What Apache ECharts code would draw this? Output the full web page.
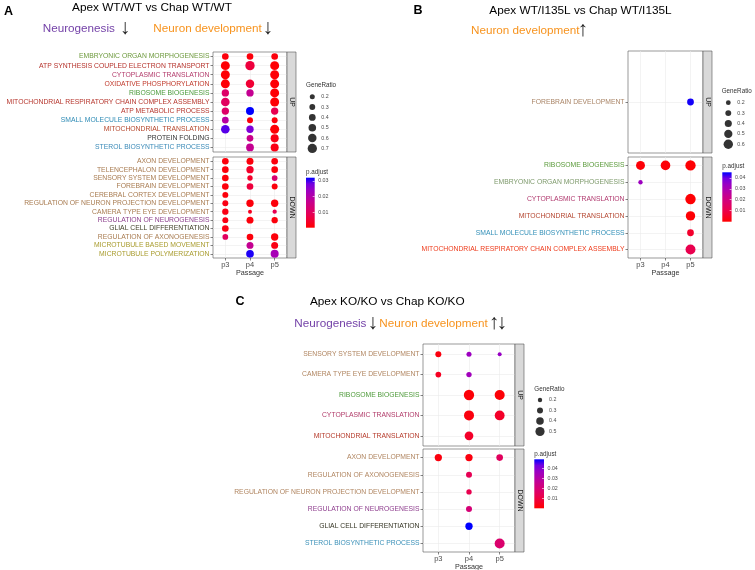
<!DOCTYPE html>
<html><head><meta charset="utf-8">
<script src="https://cdn.jsdelivr.net/npm/echarts@6/dist/echarts.min.js"></script>
<style>html,body{margin:0;padding:0;background:#fff}#c{width:755px;height:570px}</style>
</head><body><div id="c"></div>
<script>
// ---------------- DATA ----------------
const passages = ['p3', 'p4', 'p5'];

// Panel A : Apex WT/WT vs Chap WT/WT
const aUpTerms = ['EMBRYONIC ORGAN MORPHOGENESIS','ATP SYNTHESIS COUPLED ELECTRON TRANSPORT','CYTOPLASMIC TRANSLATION','OXIDATIVE PHOSPHORYLATION','RIBOSOME BIOGENESIS','MITOCHONDRIAL RESPIRATORY CHAIN COMPLEX ASSEMBLY','ATP METABOLIC PROCESS','SMALL MOLECULE BIOSYNTHETIC PROCESS','MITOCHONDRIAL TRANSLATION','PROTEIN FOLDING','STEROL BIOSYNTHETIC PROCESS'];
const aUpTermColors = ['#6E9A3E','#B5312A','#B23A6A','#C0392B','#4A9A3A','#B5342B','#B5342B','#2E8BB5','#B5462B','#333333','#3A8AB8'];
// [passage, term index, GeneRatio, p.adjust]
const aUpPoints = [
  ['p3',0,0.39,0.001],['p4',0,0.39,0.001],['p5',0,0.39,0.001],
  ['p3',1,0.66,0.0005],['p4',1,0.70,0.006],['p5',1,0.66,0.0005],
  ['p3',2,0.66,0.0005],['p5',2,0.66,0.0005],
  ['p3',3,0.66,0.0005],['p4',3,0.60,0.005],['p5',3,0.66,0.0005],
  ['p3',4,0.47,0.011],['p4',4,0.47,0.017],['p5',4,0.66,0.0005],
  ['p3',5,0.62,0.010],['p5',5,0.66,0.0005],
  ['p3',6,0.47,0.011],['p4',6,0.55,0.032],['p5',6,0.47,0.008],
  ['p3',7,0.39,0.019],['p4',7,0.31,0.001],['p5',7,0.31,0.001],
  ['p3',8,0.62,0.029],['p4',8,0.47,0.027],['p5',8,0.66,0.0005],
  ['p4',9,0.39,0.016],['p5',9,0.55,0.002],
  ['p4',10,0.52,0.017],['p5',10,0.55,0.002]
];
const aDownTerms = ['AXON DEVELOPMENT','TELENCEPHALON DEVELOPMENT','SENSORY SYSTEM DEVELOPMENT','FOREBRAIN DEVELOPMENT','CEREBRAL CORTEX DEVELOPMENT','REGULATION OF NEURON PROJECTION DEVELOPMENT','CAMERA TYPE EYE DEVELOPMENT','REGULATION OF NEUROGENESIS','GLIAL CELL DIFFERENTIATION','REGULATION OF AXONOGENESIS','MICROTUBULE BASED MOVEMENT','MICROTUBULE POLYMERIZATION'];
const aDownTermColors = ['#A87B50','#A87B50','#A87B50','#A87B50','#A87B50','#A87B50','#A87B50','#8C3F8C','#3F3F26','#A87B50','#A89B2C','#A89B2C'];
const aDownPoints = [
  ['p3',0,0.39,0.001],['p4',0,0.43,0.001],['p5',0,0.39,0.001],
  ['p3',1,0.39,0.001],['p4',1,0.47,0.004],['p5',1,0.39,0.001],
  ['p3',2,0.39,0.001],['p4',2,0.24,0.004],['p5',2,0.28,0.012],
  ['p3',3,0.39,0.001],['p4',3,0.39,0.006],['p5',3,0.31,0.001],
  ['p3',4,0.31,0.001],
  ['p3',5,0.31,0.002],['p4',5,0.47,0.001],['p5',5,0.47,0.001],
  ['p3',6,0.35,0.002],['p4',6,0.08,0.003],['p5',6,0.12,0.008],
  ['p3',7,0.31,0.002],['p4',7,0.43,0.001],['p5',7,0.35,0.001],
  ['p3',8,0.39,0.002],
  ['p3',9,0.28,0.010],['p4',9,0.39,0.001],['p5',9,0.47,0.001],
  ['p4',10,0.43,0.017],['p5',10,0.43,0.002],
  ['p4',11,0.51,0.031],['p5',11,0.55,0.022]
];
const aSizeBreaks = [0.2,0.3,0.4,0.5,0.6,0.7];
const aPadjMax = 0.032;

// Panel B : Apex WT/I135L vs Chap WT/I135L
const bUpTerms = ['FOREBRAIN DEVELOPMENT'];
const bUpTermColors = ['#A98466'];
const bUpPoints = [['p5',0,0.37,0.044]];
const bDownTerms = ['RIBOSOME BIOGENESIS','EMBRYONIC ORGAN MORPHOGENESIS','CYTOPLASMIC TRANSLATION','MITOCHONDRIAL TRANSLATION','SMALL MOLECULE BIOSYNTHETIC PROCESS','MITOCHONDRIAL RESPIRATORY CHAIN COMPLEX ASSEMBLY'];
const bDownTermColors = ['#5A9A3A','#7E9A6C','#B0386E','#B4452F','#3390B8','#EE3A1A'];
const bDownPoints = [
  ['p3',0,0.56,0.001],['p4',0,0.62,0.001],['p5',0,0.68,0.0005],
  ['p3',1,0.16,0.033],
  ['p5',2,0.69,0.0005],
  ['p5',3,0.60,0.0005],
  ['p5',4,0.37,0.006],
  ['p5',5,0.65,0.011]
];
const bSizeBreaks = [0.2,0.3,0.4,0.5,0.6];
const bPadjMax = 0.045;

// Panel C : Apex KO/KO vs Chap KO/KO
const cUpTerms = ['SENSORY SYSTEM DEVELOPMENT','CAMERA TYPE EYE DEVELOPMENT','RIBOSOME BIOGENESIS','CYTOPLASMIC TRANSLATION','MITOCHONDRIAL TRANSLATION'];
const cUpTermColors = ['#B08560','#B08560','#4E9A3A','#B03A68','#B53A2A'];
const cUpPoints = [
  ['p3',0,0.30,0.002],['p4',0,0.24,0.036],['p5',0,0.175,0.037],
  ['p3',1,0.28,0.005],['p4',1,0.26,0.035],
  ['p4',2,0.57,0.001],['p5',2,0.55,0.001],
  ['p4',3,0.55,0.002],['p5',3,0.54,0.006],
  ['p4',4,0.47,0.006]
];
const cDownTerms = ['AXON DEVELOPMENT','REGULATION OF AXONOGENESIS','REGULATION OF NEURON PROJECTION DEVELOPMENT','REGULATION OF NEUROGENESIS','GLIAL CELL DIFFERENTIATION','STEROL BIOSYNTHETIC PROCESS'];
const cDownTermColors = ['#B08560','#B08560','#B08560','#8E3E8E','#333322','#3A90B8'];
const cDownPoints = [
  ['p3',0,0.38,0.002],['p4',0,0.38,0.002],['p5',0,0.34,0.015],
  ['p4',1,0.30,0.013],
  ['p4',2,0.26,0.012],
  ['p4',3,0.30,0.020],
  ['p4',4,0.38,0.049],
  ['p5',5,0.55,0.018]
];
const cSizeBreaks = [0.2,0.3,0.4,0.5];
const cPadjMax = 0.049;

// ---------------- STYLE / LAYOUT ----------------
const FONT = '"Liberation Sans", Arial, Helvetica, sans-serif';
const grad = ['#FF0000','#F4002A','#E80050','#D9006E','#C90089','#B300A8','#9A00C3','#7300E0','#0000FF'];
const sizeA = v => 3.3 + 8.6 * v;
const sizeB = v => 2.5 + 11.5 * v;
const sizeC = v => 1.2 + 16 * v;

const grids = [], xAxes = [], yAxes = [], series = [], visualMaps = [], graphics = [];

function txt(x, y, s, o) {
  o = o || {};
  return {type:'text', x:x, y:y, z:100, rotation:o.rot || 0,
    style:{text:s, fill:o.color || '#000', fontSize:o.size || 11.8, fontFamily:o.family || FONT,
      fontWeight:o.weight || 'normal', align:o.align || 'left', verticalAlign:'middle',
      textAlign:o.align || 'left', textVerticalAlign:'middle'}};
}

function addFacet(box, terms, termColors, points, sizeFn, showX, stripLabel) {
  const gi = grids.length;
  grids.push({left:box[0], top:box[1], width:box[2], height:box[3], show:true,
    borderColor:'#555', borderWidth:0.6, backgroundColor:'#fff', outerBoundsMode:'none', containLabel:false});
  xAxes.push({type:'category', gridIndex:gi, data:passages, boundaryGap:true,
    axisLine:{show:false},
    axisTick:{show:showX, alignWithLabel:true, length:2.5, interval:0, lineStyle:{color:'#333', width:0.6}},
    axisLabel:{show:showX, interval:0, fontSize:7.5, color:'#4d4d4d', margin:2.5, fontFamily:FONT},
    splitLine:{show:true, interval:0, alignWithLabel:true, lineStyle:{color:'#EBEBEB', width:0.6}},
    name: showX ? 'Passage' : '', nameLocation:'middle', nameGap:11.5,
    nameTextStyle:{fontSize:7.2, color:'#333', fontFamily:FONT}});
  const colorOf = {};
  terms.forEach((t, i) => { colorOf[t] = termColors[i]; });
  yAxes.push({type:'category', gridIndex:gi, data:terms, inverse:true, boundaryGap:true,
    axisLine:{show:false},
    axisTick:{show:true, alignWithLabel:true, length:2.5, interval:0, lineStyle:{color:'#333', width:0.6}},
    axisLabel:{interval:0, fontSize:6.8, margin:3.5, fontFamily:FONT, color:(v) => colorOf[v]},
    splitLine:{show:true, interval:0, alignWithLabel:true, lineStyle:{color:'#EBEBEB', width:0.6}}});
  const si = series.length;
  series.push({type:'scatter', xAxisIndex:gi, yAxisIndex:gi,
    data: points.map(p => [p[0], terms[p[1]], p[2], p[3]]),
    symbolSize: d => sizeFn(d[2]), itemStyle:{opacity:1}, emphasis:{disabled:true}, z:5});
  // facet strip
  const sx = box[0] + box[2];
  graphics.push({type:'rect', z:50, shape:{x:sx, y:box[1], width:9, height:box[3]},
    style:{fill:'#D9D9D9', stroke:'#555', lineWidth:0.6}});
  graphics.push(txt(sx + 4.5, box[1] + box[3] / 2, stripLabel, {size:7, color:'#1a1a1a', align:'center', rot:-Math.PI / 2}));
  return si;
}

function addSizeLegend(cx, y0, step, breaks, sizeFn, titleX, titleY) {
  const gi = grids.length;
  grids.push({left:cx - 5, top:y0 - step / 2, width:10, height:step * breaks.length, show:false, outerBoundsMode:'none'});
  xAxes.push({type:'category', gridIndex:gi, data:['k'], show:false});
  yAxes.push({type:'category', gridIndex:gi, data:breaks.map(b => b.toFixed(1)), inverse:true, position:'right',
    axisLine:{show:false}, axisTick:{show:false}, splitLine:{show:false},
    axisLabel:{interval:0, fontSize:5.3, color:'#4d4d4d', margin:4, fontFamily:FONT}});
  series.push({type:'scatter', xAxisIndex:gi, yAxisIndex:gi, silent:true,
    data: breaks.map(b => ['k', b.toFixed(1), b]),
    symbolSize: d => sizeFn(d[2]), itemStyle:{color:'#000'}});
  graphics.push(txt(titleX, titleY, 'GeneRatio', {size:6.3, color:'#333'}));
}

function addColorbar(box, max, titleY) {
  const gi = grids.length;
  grids.push({left:box[0], top:box[1], width:box[2], height:box[3], show:false, outerBoundsMode:'none'});
  xAxes.push({type:'category', gridIndex:gi, data:['k'], show:false});
  yAxes.push({type:'value', gridIndex:gi, min:0, max:max, interval:0.01, position:'right', z:10,
    axisLine:{show:false}, splitLine:{show:false},
    axisTick:{show:true, inside:true, length:2, lineStyle:{color:'#fff', width:0.6}},
    axisLabel:{fontSize:5.3, color:'#4d4d4d', margin:3.5, fontFamily:FONT, showMinLabel:false, showMaxLabel:false,
      formatter: v => v.toFixed(2)}});
  series.push({type:'custom', xAxisIndex:gi, yAxisIndex:gi, silent:true, z:2,
    encode:{x:0, y:[1, 2]},
    data:[['k', 0, max]],
    renderItem: (params, api) => {
      const b = api.coord([api.value(0), api.value(1)]);
      const t = api.coord([api.value(0), api.value(2)]);
      const bw = api.size([1, 0])[0];
      return {type:'rect', shape:{x:b[0] - bw / 2, y:t[1], width:bw, height:b[1] - t[1]},
        style:{fill:new echarts.graphic.LinearGradient(0, 1, 0, 0,
          grad.map((c, i) => ({offset:i / (grad.length - 1), color:c})))}};
    }});
  graphics.push(txt(box[0], titleY, 'p.adjust', {size:6.3, color:'#333'}));
}

// Panel A
const sA1 = addFacet([213, 52, 74, 100], aUpTerms, aUpTermColors, aUpPoints, sizeA, false, 'UP');
const sA2 = addFacet([213, 157, 74, 101], aDownTerms, aDownTermColors, aDownPoints, sizeA, true, 'DOWN');
addSizeLegend(312.3, 96.7, 10.35, aSizeBreaks, sizeA, 306, 85.7);
addColorbar([306, 177.7, 8.7, 50], aPadjMax, 172.5);
visualMaps.push({type:'continuous', show:false, seriesIndex:[sA1, sA2], dimension:3, min:0, max:aPadjMax, inRange:{color:grad}});

// Panel B
const sB1 = addFacet([628, 51, 75, 102], bUpTerms, bUpTermColors, bUpPoints, sizeB, false, 'UP');
const sB2 = addFacet([628, 157, 75, 101], bDownTerms, bDownTermColors, bDownPoints, sizeB, true, 'DOWN');
addSizeLegend(728.3, 102.7, 10.4, bSizeBreaks, sizeB, 721.7, 91);
addColorbar([722.3, 172.3, 9.3, 49.4], bPadjMax, 166.5);
visualMaps.push({type:'continuous', show:false, seriesIndex:[sB1, sB2], dimension:3, min:0, max:bPadjMax, inRange:{color:grad}});

// Panel C
const sC1 = addFacet([423, 344, 92, 102], cUpTerms, cUpTermColors, cUpPoints, sizeC, false, 'UP');
const sC2 = addFacet([423, 449, 92, 103], cDownTerms, cDownTermColors, cDownPoints, sizeC, true, 'DOWN');
addSizeLegend(540, 400, 10.5, cSizeBreaks, sizeC, 534.3, 389.3);
addColorbar([534.3, 459.3, 9.7, 49], cPadjMax, 454);
visualMaps.push({type:'continuous', show:false, seriesIndex:[sC1, sC2], dimension:3, min:0, max:cPadjMax, inRange:{color:grad}});

// Titles
const PURPLE = '#7442A8', ORANGE = '#F7931E';
const ARROW = {size:21, color:'#222', align:'center', weight:'lighter'};
graphics.push(txt(4, 11.5, 'A', {size:12.5, weight:'bold'}));
graphics.push(txt(152, 7.5, 'Apex WT/WT vs Chap WT/WT', {align:'center'}));
graphics.push(txt(42.7, 28.3, 'Neurogenesis', {size:11.7, color:PURPLE}));
graphics.push(txt(125, 28.3, '↓', ARROW));
graphics.push(txt(153.3, 28.3, 'Neuron development', {size:11.7, color:ORANGE}));
graphics.push(txt(267.7, 28.3, '↓', ARROW));

graphics.push(txt(413.5, 10.7, 'B', {size:12.5, weight:'bold'}));
graphics.push(txt(580.5, 10.7, 'Apex WT/I135L vs Chap WT/I135L', {align:'center'}));
graphics.push(txt(471, 30.7, 'Neuron development', {size:11.7, color:ORANGE}));
graphics.push(txt(582.7, 30.4, '↑', ARROW));

graphics.push(txt(235.5, 302, 'C', {size:12.5, weight:'bold'}));
graphics.push(txt(387.3, 301.7, 'Apex KO/KO vs Chap KO/KO', {align:'center'}));
graphics.push(txt(294.3, 323.3, 'Neurogenesis', {size:11.7, color:PURPLE}));
graphics.push(txt(372.7, 323.3, '↓', ARROW));
graphics.push(txt(379.3, 323.3, 'Neuron development', {size:11.7, color:ORANGE}));
graphics.push(txt(494, 323.3, '↑', ARROW));
graphics.push(txt(501.7, 323.3, '↓', ARROW));

const chart = echarts.init(document.getElementById('c'), null, {renderer:'canvas'});
chart.setOption({
  animation:false,
  backgroundColor:'#fff',
  textStyle:{fontFamily:FONT},
  grid:grids, xAxis:xAxes, yAxis:yAxes, series:series, visualMap:visualMaps,
  graphic:{elements:graphics}
});
</script>
</body></html>
